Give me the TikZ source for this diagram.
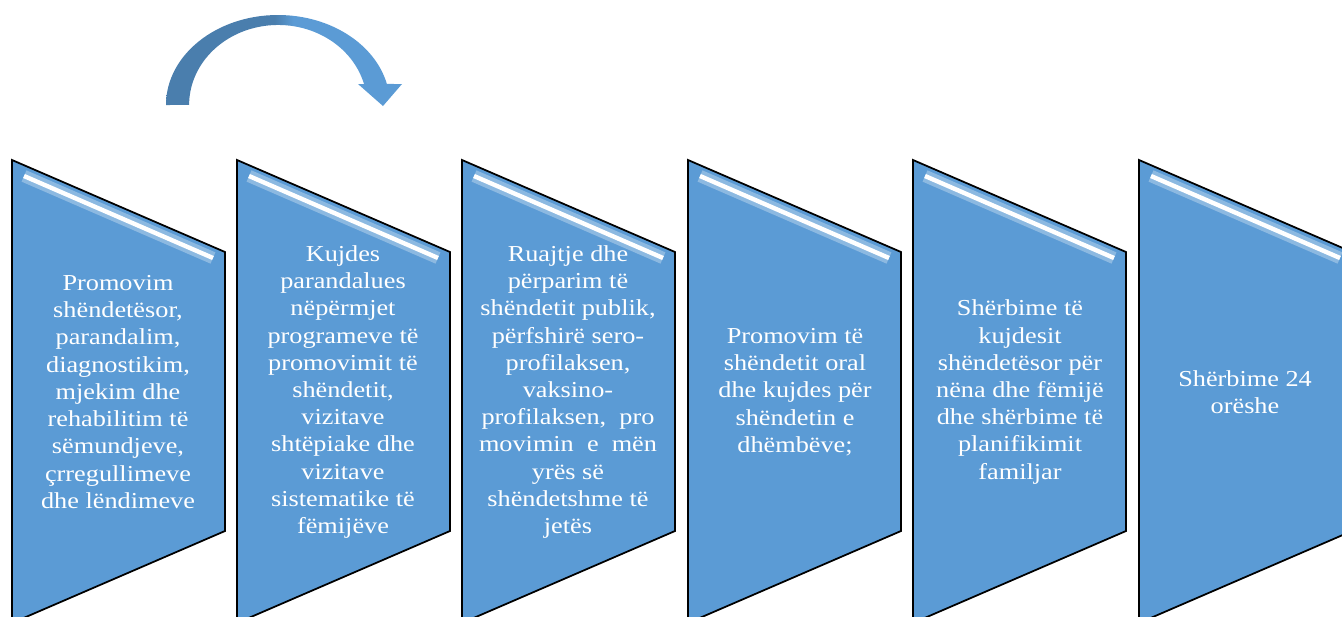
\documentclass[tikz,border=0pt]{standalone}
\usepackage{fontspec}
\setmainfont{Liberation Serif}[FakeStretch=1.15]
\definecolor{boxblue}{HTML}{5B9BD5}
\definecolor{arrowdark}{HTML}{4A7EAD}
\pgfdeclarehorizontalshading{arrowshade}{100bp}{color(0bp)=(arrowdark); color(48bp)=(arrowdark); color(52bp)=(boxblue); color(100bp)=(boxblue)}
\tikzset{
  stepshape/.style={fill=boxblue, draw=black, line width=1pt},
  glow/.style={draw=white, opacity=0.3, line width=7pt},
  shine/.style={draw=white, line width=2.5pt},
  steptext/.style={text=white, align=center, font=\fontsize{13}{15.5}\selectfont},
}
\begin{document}
\begin{tikzpicture}[x=0.02cm, y=-0.02cm]
    \useasboundingbox (0,0) rectangle (1342,616);
    \clip (0,0) rectangle (1342,616);

    % Draw curved arrow
    \shade[shading=arrowshade] (166,105) arc[start angle=180, end angle=346.5, x radius=112, y radius=90]
        -- (402,84) -- (383,106) -- (358,84) -- (364,84)
        arc[start angle=344.8, end angle=180, x radius=89, y radius=80] -- cycle;

    % Draw steps
    \draw[stepshape] (12,160) -- ++(213,92) -- ++(0,279) -- ++(-213,92) -- cycle;
    \draw[stepshape] (237,160) -- ++(213,92) -- ++(0,279) -- ++(-213,92) -- cycle;
    \draw[stepshape] (462,160) -- ++(213,92) -- ++(0,279) -- ++(-213,92) -- cycle;
    \draw[stepshape] (688,160) -- ++(213,92) -- ++(0,279) -- ++(-213,92) -- cycle;
    \draw[stepshape] (913,160) -- ++(213,92) -- ++(0,279) -- ++(-213,92) -- cycle;
    \draw[stepshape] (1139,160) -- ++(213,92) -- ++(0,279) -- ++(-213,92) -- cycle;

    % Draw highlights
    \draw[glow] (24,176) -- ++(189,82);
    \draw[shine] (24,176) -- ++(189,82);
    \draw[glow] (249,176) -- ++(189,82);
    \draw[shine] (249,176) -- ++(189,82);
    \draw[glow] (474,176) -- ++(189,82);
    \draw[shine] (474,176) -- ++(189,82);
    \draw[glow] (700,176) -- ++(189,82);
    \draw[shine] (700,176) -- ++(189,82);
    \draw[glow] (925,176) -- ++(189,82);
    \draw[shine] (925,176) -- ++(189,82);
    \draw[glow] (1151,176) -- ++(189,82);
    \draw[shine] (1151,176) -- ++(189,82);

    % Draw texts
    \node[steptext] (promo) at (118,392) {Promovim\\shëndetësor,\\parandalim,\\diagnostikim,\\mjekim dhe\\rehabilitim të\\sëmundjeve,\\çrregullimeve\\dhe lëndimeve};
    \node[steptext] (kujdes) at (343,392) {Kujdes\\parandalues\\nëpërmjet\\programeve të\\promovimit të\\shëndetit,\\vizitave\\shtëpiake dhe\\vizitave\\sistematike të\\fëmijëve};
    \node[steptext] (ruajtje) at (568,392) {Ruajtje dhe\\përparim të\\shëndetit publik,\\përfshirë sero-\\profilaksen,\\vaksino-\\profilaksen,\ \ pro\\movimin\ \ e\ \ mën\\yrës së\\shëndetshme të\\jetës};
    \node[steptext] (oral) at (795,392) {Promovim të\\shëndetit oral\\dhe kujdes për\\shëndetin e\\dhëmbëve;};
    \node[steptext] (nena) at (1020,392) {Shërbime të\\kujdesit\\shëndetësor për\\nëna dhe fëmijë\\dhe shërbime të\\planifikimit\\familjar};
    \node[steptext] (sherbime) at (1245,392) {Shërbime 24\\orëshe};
\end{tikzpicture}
\end{document}
